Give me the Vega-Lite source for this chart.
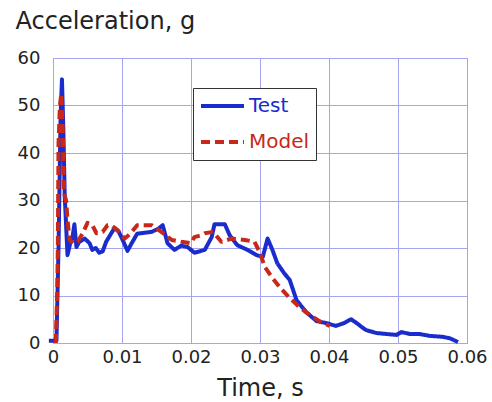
{
  "$schema": "https://vega.github.io/schema/vega-lite/v6.json",
  "width": 414,
  "height": 285,
  "autosize": "none",
  "padding": {"left": 53, "top": 58, "right": 25, "bottom": 59},
  "background": "white",
  "config": {
    "font": "DejaVu Sans",
    "view": {"stroke": "#8a8ae0", "strokeWidth": 1}
  },
  "data": {
    "values": [
      {"t": -0.0006, "v": 0.5, "s": "Test"},
      {"t": 0.0005, "v": 0.5, "s": "Test"},
      {"t": 0.0008, "v": 20, "s": "Test"},
      {"t": 0.0011, "v": 48, "s": "Test"},
      {"t": 0.0013, "v": 55.5, "s": "Test"},
      {"t": 0.0015, "v": 45, "s": "Test"},
      {"t": 0.0017, "v": 31, "s": "Test"},
      {"t": 0.0021, "v": 18.5, "s": "Test"},
      {"t": 0.0025, "v": 21, "s": "Test"},
      {"t": 0.0028, "v": 22, "s": "Test"},
      {"t": 0.0031, "v": 25, "s": "Test"},
      {"t": 0.0034, "v": 20.2, "s": "Test"},
      {"t": 0.0038, "v": 21.3, "s": "Test"},
      {"t": 0.0046, "v": 22, "s": "Test"},
      {"t": 0.0053, "v": 21, "s": "Test"},
      {"t": 0.0057, "v": 19.6, "s": "Test"},
      {"t": 0.0062, "v": 20, "s": "Test"},
      {"t": 0.0067, "v": 19, "s": "Test"},
      {"t": 0.0072, "v": 19.3, "s": "Test"},
      {"t": 0.0077, "v": 21.3, "s": "Test"},
      {"t": 0.0089, "v": 24.2, "s": "Test"},
      {"t": 0.0095, "v": 23.5, "s": "Test"},
      {"t": 0.0099, "v": 22.3, "s": "Test"},
      {"t": 0.0108, "v": 19.4, "s": "Test"},
      {"t": 0.0114, "v": 21, "s": "Test"},
      {"t": 0.0122, "v": 23, "s": "Test"},
      {"t": 0.0132, "v": 23.2, "s": "Test"},
      {"t": 0.0143, "v": 23.4, "s": "Test"},
      {"t": 0.0152, "v": 24, "s": "Test"},
      {"t": 0.0159, "v": 24.8, "s": "Test"},
      {"t": 0.0166, "v": 21, "s": "Test"},
      {"t": 0.0176, "v": 19.6, "s": "Test"},
      {"t": 0.0186, "v": 20.5, "s": "Test"},
      {"t": 0.0195, "v": 20.2, "s": "Test"},
      {"t": 0.0205, "v": 19, "s": "Test"},
      {"t": 0.022, "v": 19.6, "s": "Test"},
      {"t": 0.023, "v": 22.3, "s": "Test"},
      {"t": 0.0234, "v": 25, "s": "Test"},
      {"t": 0.0249, "v": 25, "s": "Test"},
      {"t": 0.0256, "v": 22.7, "s": "Test"},
      {"t": 0.0267, "v": 20.6, "s": "Test"},
      {"t": 0.0282, "v": 19.6, "s": "Test"},
      {"t": 0.0295, "v": 18.5, "s": "Test"},
      {"t": 0.0304, "v": 18.1, "s": "Test"},
      {"t": 0.0311, "v": 22, "s": "Test"},
      {"t": 0.0318, "v": 19.6, "s": "Test"},
      {"t": 0.0325, "v": 16.8, "s": "Test"},
      {"t": 0.0335, "v": 14.7, "s": "Test"},
      {"t": 0.0343, "v": 13.3, "s": "Test"},
      {"t": 0.0353, "v": 9, "s": "Test"},
      {"t": 0.0367, "v": 6.5, "s": "Test"},
      {"t": 0.0382, "v": 4.6, "s": "Test"},
      {"t": 0.0396, "v": 4.2, "s": "Test"},
      {"t": 0.041, "v": 3.6, "s": "Test"},
      {"t": 0.0422, "v": 4.2, "s": "Test"},
      {"t": 0.0432, "v": 5, "s": "Test"},
      {"t": 0.044, "v": 4.2, "s": "Test"},
      {"t": 0.0449, "v": 3.2, "s": "Test"},
      {"t": 0.0454, "v": 2.7, "s": "Test"},
      {"t": 0.0469, "v": 2.1, "s": "Test"},
      {"t": 0.0483, "v": 1.9, "s": "Test"},
      {"t": 0.0498, "v": 1.7, "s": "Test"},
      {"t": 0.0505, "v": 2.3, "s": "Test"},
      {"t": 0.0517, "v": 1.9, "s": "Test"},
      {"t": 0.0531, "v": 1.9, "s": "Test"},
      {"t": 0.0546, "v": 1.5, "s": "Test"},
      {"t": 0.0565, "v": 1.3, "s": "Test"},
      {"t": 0.0575, "v": 1.0, "s": "Test"},
      {"t": 0.0587, "v": 0.2, "s": "Test"},
      {"t": 0.0004, "v": 0, "s": "Model"},
      {"t": 0.0006, "v": 10, "s": "Model"},
      {"t": 0.0007, "v": 20, "s": "Model"},
      {"t": 0.0008, "v": 42, "s": "Model"},
      {"t": 0.001, "v": 50, "s": "Model"},
      {"t": 0.0012, "v": 52.5, "s": "Model"},
      {"t": 0.0014, "v": 45.5, "s": "Model"},
      {"t": 0.0016, "v": 31.5, "s": "Model"},
      {"t": 0.0019, "v": 30, "s": "Model"},
      {"t": 0.0021, "v": 26, "s": "Model"},
      {"t": 0.0024, "v": 21.7, "s": "Model"},
      {"t": 0.0029, "v": 21, "s": "Model"},
      {"t": 0.0036, "v": 21.3, "s": "Model"},
      {"t": 0.0043, "v": 23.1, "s": "Model"},
      {"t": 0.005, "v": 25.3, "s": "Model"},
      {"t": 0.0057, "v": 24.8, "s": "Model"},
      {"t": 0.0063, "v": 23.1, "s": "Model"},
      {"t": 0.0072, "v": 23.4, "s": "Model"},
      {"t": 0.0079, "v": 24.8, "s": "Model"},
      {"t": 0.0084, "v": 24.8, "s": "Model"},
      {"t": 0.0093, "v": 23.8, "s": "Model"},
      {"t": 0.0104, "v": 22, "s": "Model"},
      {"t": 0.0112, "v": 23, "s": "Model"},
      {"t": 0.0122, "v": 24.8, "s": "Model"},
      {"t": 0.0143, "v": 24.8, "s": "Model"},
      {"t": 0.0157, "v": 23.4, "s": "Model"},
      {"t": 0.0172, "v": 21.7, "s": "Model"},
      {"t": 0.0186, "v": 21.3, "s": "Model"},
      {"t": 0.02, "v": 21, "s": "Model"},
      {"t": 0.0205, "v": 22.3, "s": "Model"},
      {"t": 0.0215, "v": 22.7, "s": "Model"},
      {"t": 0.022, "v": 23.1, "s": "Model"},
      {"t": 0.0232, "v": 23.4, "s": "Model"},
      {"t": 0.0244, "v": 21.3, "s": "Model"},
      {"t": 0.0259, "v": 22, "s": "Model"},
      {"t": 0.0278, "v": 21.7, "s": "Model"},
      {"t": 0.0292, "v": 21.3, "s": "Model"},
      {"t": 0.03, "v": 19, "s": "Model"},
      {"t": 0.0307, "v": 16, "s": "Model"},
      {"t": 0.0318, "v": 13.7, "s": "Model"},
      {"t": 0.033, "v": 11.5, "s": "Model"},
      {"t": 0.0343, "v": 9.5, "s": "Model"},
      {"t": 0.0357, "v": 7.6, "s": "Model"},
      {"t": 0.0372, "v": 5.9, "s": "Model"},
      {"t": 0.0386, "v": 4.6, "s": "Model"},
      {"t": 0.0401, "v": 3.6, "s": "Model"}
    ]
  },
  "mark": {"type": "line", "strokeWidth": 4, "clip": false, "strokeJoin": "round"},
  "encoding": {
    "x": {
      "field": "t",
      "type": "quantitative",
      "scale": {"domain": [0, 0.06], "nice": false, "zero": false},
      "axis": {
        "title": "Time, s",
        "values": [0, 0.01, 0.02, 0.03, 0.04, 0.05, 0.06],
        "format": "~g",
        "domain": false,
        "ticks": false,
        "grid": true,
        "gridColor": "#a4a4f0",
        "gridOpacity": 1,
        "gridWidth": 1,
        "labelFont": "DejaVu Sans",
        "labelFontSize": 18,
        "labelColor": "#222",
        "labelPadding": 5,
        "labelFlush": false,
        "labelOverlap": false,
        "titleFont": "DejaVu Sans",
        "titleFontSize": 24,
        "titleFontWeight": "normal",
        "titleColor": "#222",
        "titlePadding": 10
      }
    },
    "y": {
      "field": "v",
      "type": "quantitative",
      "scale": {"domain": [0, 60], "nice": false},
      "axis": {
        "title": "Acceleration, g",
        "values": [0, 10, 20, 30, 40, 50, 60],
        "domain": false,
        "ticks": false,
        "grid": true,
        "gridColor": "#a4a4f0",
        "gridOpacity": 1,
        "gridWidth": 1,
        "labelFont": "DejaVu Sans",
        "labelFontSize": 18,
        "labelColor": "#222",
        "labelPadding": 13,
        "labelFlush": false,
        "labelOverlap": false,
        "titleFont": "DejaVu Sans",
        "titleFontSize": 24,
        "titleFontWeight": "normal",
        "titleColor": "#222",
        "titleAngle": 0,
        "titleAlign": "left",
        "titleBaseline": "alphabetic",
        "titleX": -38,
        "titleY": -30
      }
    },
    "color": {
      "field": "s",
      "type": "nominal",
      "sort": ["Test", "Model"],
      "scale": {"domain": ["Test", "Model"], "range": ["#1a2ccc", "#c8281a"]},
      "legend": {
        "title": null,
        "orient": "none",
        "legendX": 140,
        "legendY": 30,
        "direction": "vertical",
        "symbolType": "stroke",
        "symbolSize": 1849,
        "symbolStrokeWidth": 4,
        "clipHeight": 24,
        "labelFont": "DejaVu Sans",
        "labelFontSize": 20,
        "labelOffset": 3,
        "rowPadding": 12,
        "padding": 6,
        "strokeColor": "#333",
        "fillColor": "white",
        "cornerRadius": 0,
        "encode": {
          "labels": {
            "update": {
              "fill": {"signal": "datum.label == 'Test' ? '#1a2ccc' : '#c8281a'"}
            }
          }
        }
      }
    },
    "strokeDash": {
      "field": "s",
      "type": "nominal",
      "sort": ["Test", "Model"],
      "scale": {"domain": ["Test", "Model"], "range": [[1, 0], [9, 5]]},
      "legend": null
    }
  }
}
